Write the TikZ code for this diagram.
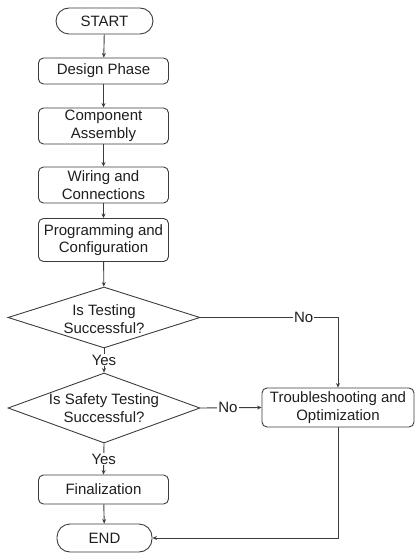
\documentclass[tikz,border=0pt]{standalone}
\usepackage{fontspec}
\setmainfont{Liberation Sans}
\usetikzlibrary{shapes.geometric,arrows.meta}
\definecolor{ln}{RGB}{60,60,60}
\definecolor{tx}{RGB}{30,30,30}
\begin{document}
\begin{tikzpicture}[x=1pt,y=-1pt,
  every node/.style={text=tx,font=\fontsize{15}{17.5}\selectfont},
  box/.style={draw=ln,line width=0.9pt,rounded corners=5pt,minimum width=130pt,inner sep=0pt,align=center},
  term/.style={draw=ln,line width=0.9pt,rounded corners=13pt,inner sep=0pt,align=center},
  dia/.style={draw=ln,line width=0.9pt,diamond,inner sep=0pt,minimum width=192pt},
  lbl/.style={fill=white,inner sep=1pt},
  conn/.style={draw=ln,line width=0.9pt,-{Stealth[length=4.5pt,width=4pt]}}]
\useasboundingbox (0,0) rectangle (415,553);
\node[term,minimum width=97pt,minimum height=26pt] (start) at (104.5,21) {START};
\node[box,minimum height=26pt] (design) at (103.5,71) {Design Phase};
\node[box,minimum height=36pt] (comp) at (103.5,126) {Component\\Assembly};
\node[box,minimum height=36pt] (wiring) at (103.5,185) {Wiring and\\Connections};
\node[box,minimum height=43pt] (prog) at (103.5,240) {Programming and\\Configuration};
\node[dia,minimum height=61pt] (d1) at (104,317.5) {};
\node[align=center] (d1t) at (104,319) {Is Testing\\Successful?};
\node[dia,minimum height=70pt] (d2) at (104,408) {};
\node[align=center] (d2t) at (104,408) {Is Safety Testing\\Successful?};
\node[box,minimum width=152pt,minimum height=39pt] (trouble) at (338,407.5) {Troubleshooting and\\Optimization};
\node[box,minimum height=29pt] (final) at (103.5,489.5) {Finalization};
\node[term,minimum width=95pt,minimum height=28pt] (end) at (104.5,538) {END};
\coordinate (c1) at (trouble.north |- d1.east);
\coordinate (c2) at (trouble.south |- end.east);
\draw[conn] (start) -- (design);
\draw[conn] (design) -- (comp);
\draw[conn] (comp) -- (wiring);
\draw[conn] (wiring) -- (prog);
\draw[conn] (prog) -- (d1);
\draw[conn] (d1.south) -- node[lbl,pos=0.48] (y1) {Yes} (d2.north);
\draw[conn] (d1.east) -- node[lbl,pos=0.75] (n1) {No} (c1) -- (trouble.north);
\draw[conn] (d2.east) -- node[lbl,pos=0.45] (n2) {No} (trouble.west);
\draw[conn] (d2.south) -- node[lbl,pos=0.5] (y2) {Yes} (final.north);
\draw[conn] (final) -- (end);
\draw[conn] (trouble.south) -- (c2) -- (end.east);
\end{tikzpicture}
\end{document}
